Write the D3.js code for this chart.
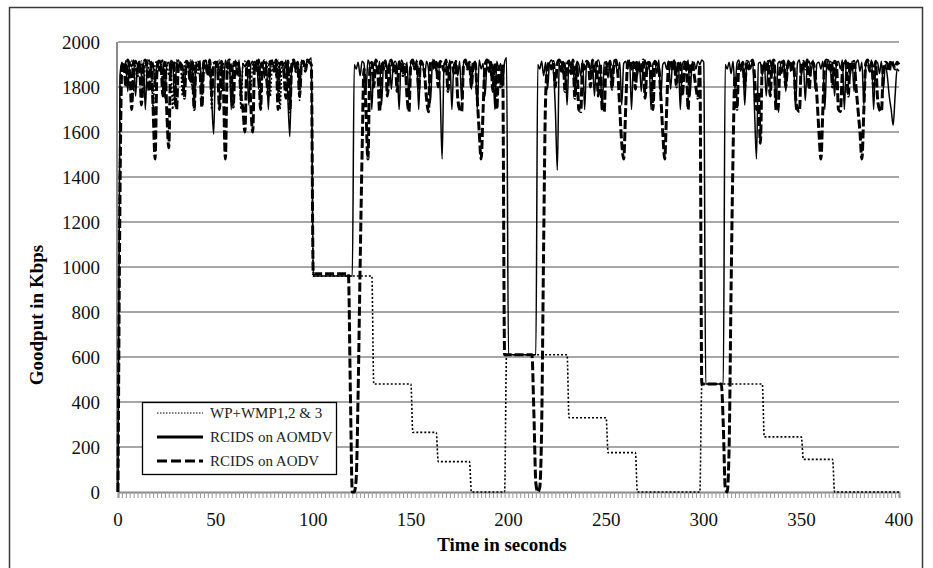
<!DOCTYPE html>
<html>
<head>
<meta charset="utf-8">
<script src="https://cdn.jsdelivr.net/npm/d3@7/dist/d3.min.js"></script>
<style>
    body { margin: 0; background: #fff; }
    svg { display: block; }
</style>
</head>
<body>
<div id="chart"></div>
<script>
// time axis, one sample per second
var seconds = d3.range(0, 401);

var xLabels = [0, 50, 100, 150, 200, 250, 300, 350, 400];
var yLabels = [0, 200, 400, 600, 800, 1000, 1200, 1400, 1600, 1800, 2000];

var seriesNames = ["WP+WMP1,2 & 3", "RCIDS on AOMDV", "RCIDS on AODV"];

// goodput (Kbps), t = 0..400 s
var wpWmp = [
    0, 1600, 1900, 1880, 1915, 1850, 1905, 1920, 1780, 1910, 1900, 1870, 1915, 1760, 1905, 1920, 1860, 1910, 1700, 1900,
    1915, 1880, 1920, 1790, 1905, 1910, 1850, 1915, 1700, 1900, 1920, 1870, 1910, 1760, 1905, 1915, 1880, 1920, 1790, 1900,
    1910, 1860, 1915, 1720, 1905, 1920, 1880, 1910, 1700, 1900, 1915, 1870, 1920, 1780, 1905, 1910, 1850, 1915, 1760, 1900,
    1920, 1880, 1910, 1700, 1905, 1915, 1860, 1920, 1790, 1900, 1910, 1870, 1915, 1720, 1905, 1920, 1880, 1910, 1760, 1900,
    1915, 1850, 1920, 1700, 1905, 1910, 1880, 1915, 1780, 1900, 1920, 1860, 1910, 1740, 1905, 1915, 1880, 1920, 1910, 1900,
    960, 960, 960, 960, 960, 960, 960, 960, 960, 960, 960, 960, 960, 960, 960, 960, 960, 960, 960, 960,
    960, 960, 960, 960, 960, 960, 960, 960, 960, 960, 960, 480, 480, 480, 480, 480, 480, 480, 480, 480,
    480, 480, 480, 480, 480, 480, 480, 480, 480, 480, 480, 265, 265, 265, 265, 265, 265, 265, 265, 265,
    265, 265, 265, 265, 135, 135, 135, 135, 135, 135, 135, 135, 135, 135, 135, 135, 135, 135, 135, 135,
    135, 0, 0, 0, 0, 0, 0, 0, 0, 0, 0, 0, 0, 0, 0, 0, 0, 0, 0, 610,
    610, 610, 610, 610, 610, 610, 610, 610, 610, 610, 610, 610, 610, 610, 610, 610, 610, 610, 610, 610,
    610, 610, 610, 610, 610, 610, 610, 610, 610, 610, 610, 330, 330, 330, 330, 330, 330, 330, 330, 330,
    330, 330, 330, 330, 330, 330, 330, 330, 330, 330, 330, 175, 175, 175, 175, 175, 175, 175, 175, 175,
    175, 175, 175, 175, 175, 175, 0, 0, 0, 0, 0, 0, 0, 0, 0, 0, 0, 0, 0, 0,
    0, 0, 0, 0, 0, 0, 0, 0, 0, 0, 0, 0, 0, 0, 0, 0, 0, 0, 0, 480,
    480, 480, 480, 480, 480, 480, 480, 480, 480, 480, 480, 480, 480, 480, 480, 480, 480, 480, 480, 480,
    480, 480, 480, 480, 480, 480, 480, 480, 480, 480, 480, 245, 245, 245, 245, 245, 245, 245, 245, 245,
    245, 245, 245, 245, 245, 245, 245, 245, 245, 245, 245, 145, 145, 145, 145, 145, 145, 145, 145, 145,
    145, 145, 145, 145, 145, 145, 145, 0, 0, 0, 0, 0, 0, 0, 0, 0, 0, 0, 0, 0,
    0, 0, 0, 0, 0, 0, 0, 0, 0, 0, 0, 0, 0, 0, 0, 0, 0, 0, 0, 0,
    0
];

var rcidsAomdv = [
    0, 1850, 1910, 1870, 1915, 1780, 1905, 1890, 1920, 1760, 1900, 1915, 1850, 1910, 1700, 1905, 1920, 1880, 1910, 1800,
    1915, 1870, 1905, 1920, 1750, 1900, 1910, 1860, 1915, 1720, 1905, 1920, 1880, 1900, 1790, 1915, 1905, 1850, 1920, 1700,
    1910, 1890, 1915, 1780, 1905, 1920, 1870, 1910, 1740, 1590, 1900, 1915, 1860, 1905, 1800, 1920, 1880, 1910, 1700, 1905,
    1915, 1850, 1920, 1760, 1905, 1890, 1910, 1720, 1900, 1915, 1870, 1920, 1790, 1905, 1910, 1840, 1915, 1700, 1900, 1920,
    1880, 1910, 1770, 1905, 1915, 1860, 1920, 1750, 1580, 1900, 1915, 1870, 1910, 1800, 1920, 1900, 1890, 1915, 1920, 1930,
    960, 960, 960, 960, 960, 960, 960, 960, 960, 960, 960, 960, 960, 960, 960, 960, 960, 960, 960, 960,
    960, 1900, 1880, 1910, 1850, 1915, 1905, 1780, 1920, 1890, 1700, 1910, 1900, 1860, 1915, 1720, 1905, 1920, 1870, 1910,
    1790, 1900, 1915, 1880, 1700, 1920, 1905, 1850, 1910, 1760, 1915, 1900, 1880, 1920, 1700, 1905, 1910, 1840, 1915, 1880,
    1730, 1900, 1920, 1870, 1910, 1780, 1480, 1905, 1915, 1860, 1920, 1700, 1900, 1910, 1850, 1915, 1740, 1905, 1920, 1880,
    1910, 1790, 1900, 1915, 1700, 1920, 1880, 1905, 1760, 1910, 1920, 1850, 1900, 1700, 1915, 1880, 1905, 1800, 1910, 1930,
    610, 610, 610, 610, 610, 610, 610, 610, 610, 610, 610, 610, 610, 610, 610, 1900, 1880, 1915, 1850, 1910,
    1790, 1905, 1920, 1870, 1700, 1430, 1900, 1915, 1860, 1910, 1720, 1920, 1880, 1905, 1780, 1915, 1900, 1850, 1920, 1700,
    1905, 1910, 1870, 1915, 1760, 1900, 1920, 1880, 1700, 1910, 1905, 1840, 1915, 1790, 1920, 1900, 1860, 1910, 1720, 1905,
    1915, 1880, 1920, 1700, 1905, 1910, 1850, 1915, 1780, 1900, 1920, 1870, 1910, 1700, 1905, 1915, 1860, 1920, 1750, 1900,
    1910, 1880, 1915, 1790, 1905, 1920, 1850, 1910, 1700, 1900, 1915, 1870, 1920, 1760, 1905, 1910, 1880, 1915, 1900, 1920,
    1910, 480, 480, 480, 480, 480, 480, 480, 480, 480, 480, 1900, 1880, 1910, 1860, 1915, 1790, 1905, 1920, 1870,
    1910, 1720, 1900, 1915, 1880, 1920, 1700, 1480, 1905, 1910, 1850, 1915, 1760, 1900, 1920, 1870, 1910, 1700, 1905, 1915,
    1860, 1920, 1780, 1900, 1910, 1880, 1915, 1700, 1905, 1920, 1850, 1910, 1740, 1900, 1915, 1870, 1920, 1790, 1905, 1910,
    1880, 1915, 1700, 1900, 1920, 1860, 1910, 1760, 1905, 1915, 1880, 1920, 1700, 1900, 1910, 1850, 1915, 1780, 1905, 1920,
    1870, 1910, 1720, 1900, 1915, 1880, 1920, 1700, 1905, 1910, 1860, 1915, 1790, 1900, 1850, 1760, 1700, 1630, 1760, 1880,
    1870
];

var rcidsAodv = [
    0, 1300, 1890, 1910, 1800, 1920, 1880, 1700, 1905, 1915, 1850, 1910, 1720, 1900, 1920, 1870, 1780, 1910, 1700, 1480,
    1880, 1915, 1900, 1760, 1910, 1690, 1530, 1900, 1920, 1860, 1700, 1910, 1905, 1880, 1750, 1915, 1900, 1820, 1920, 1700,
    1905, 1910, 1870, 1710, 1915, 1900, 1850, 1920, 1760, 1905, 1910, 1880, 1700, 1915, 1790, 1480, 1900, 1920, 1860, 1710,
    1910, 1905, 1880, 1760, 1700, 1600, 1900, 1915, 1720, 1600, 1910, 1880, 1920, 1700, 1905, 1910, 1850, 1760, 1915, 1900,
    1870, 1920, 1700, 1905, 1910, 1860, 1750, 1915, 1690, 1900, 1920, 1880, 1910, 1760, 1905, 1915, 1870, 1920, 1910, 1900,
    970, 970, 970, 970, 970, 970, 970, 970, 970, 970, 970, 970, 970, 970, 970, 970, 970, 970, 970, 450,
    0, 0, 60, 450, 1000, 1500, 1880, 1700, 1480, 1880, 1910, 1800, 1920, 1880, 1690, 1910, 1880, 1915, 1760, 1900,
    1920, 1870, 1905, 1780, 1910, 1915, 1850, 1900, 1760, 1690, 1905, 1920, 1880, 1910, 1790, 1915, 1900, 1860, 1750, 1690,
    1905, 1920, 1880, 1910, 1800, 1915, 1900, 1870, 1920, 1780, 1905, 1910, 1860, 1915, 1750, 1700, 1690, 1900, 1920, 1880,
    1910, 1800, 1915, 1905, 1750, 1600, 1480, 1700, 1900, 1920, 1870, 1910, 1780, 1905, 1700, 1890, 1800, 1900, 610, 610,
    610, 610, 610, 610, 610, 610, 610, 610, 610, 610, 610, 610, 610, 350, 40, 0, 20, 300, 1100, 1750,
    1890, 1910, 1880, 1915, 1800, 1905, 1920, 1870, 1910, 1780, 1900, 1915, 1860, 1920, 1750, 1905, 1700, 1690, 1910, 1880,
    1915, 1900, 1800, 1920, 1870, 1910, 1760, 1905, 1700, 1690, 1910, 1880, 1915, 1790, 1900, 1920, 1860, 1700, 1550, 1480,
    1700, 1905, 1920, 1880, 1910, 1790, 1915, 1900, 1860, 1920, 1750, 1905, 1910, 1870, 1700, 1915, 1900, 1880, 1760, 1600,
    1480, 1700, 1905, 1920, 1870, 1910, 1800, 1915, 1900, 1760, 1880, 1920, 1700, 1905, 1910, 1860, 1800, 1750, 1900, 480,
    480, 480, 480, 480, 480, 480, 480, 480, 480, 480, 300, 20, 0, 200, 900, 1500, 1850, 1700, 1900, 1880,
    1910, 1800, 1915, 1880, 1905, 1920, 1850, 1700, 1780, 1550, 1900, 1910, 1870, 1915, 1760, 1905, 1920, 1700, 1690, 1880,
    1910, 1915, 1800, 1900, 1920, 1870, 1910, 1760, 1700, 1690, 1905, 1915, 1880, 1920, 1790, 1900, 1910, 1860, 1750, 1600,
    1480, 1700, 1905, 1920, 1880, 1910, 1800, 1915, 1900, 1700, 1690, 1870, 1920, 1905, 1760, 1910, 1880, 1915, 1800, 1700,
    1600, 1480, 1700, 1905, 1920, 1870, 1910, 1800, 1915, 1750, 1700, 1690, 1880, 1910, 1905, 1870, 1920, 1900, 1880, 1910,
    1900
];

var width = 933, height = 568;
var plotLeft = 118, plotRight = 899, plotTop = 42, plotBottom = 492;

var svg = d3.select("#chart").append("svg")
    .attr("width", width)
    .attr("height", height);

var x = d3.scaleLinear().domain([0, 400]).range([plotLeft, plotRight]);
var y = d3.scaleLinear().domain([0, 2000]).range([plotBottom, plotTop]);

var serif = "'Liberation Serif', 'Times New Roman', serif";

// outer frame
svg.append("rect")
    .attr("x", 9.5).attr("y", 7.5)
    .attr("width", 913).attr("height", 580)
    .attr("fill", "none")
    .attr("stroke", "#3a3a3a")
    .attr("stroke-width", 1.5);

// horizontal gridlines
svg.append("g").selectAll("line")
    .data(yLabels.slice(1))
    .enter().append("line")
    .attr("x1", plotLeft).attr("x2", plotRight)
    .attr("y1", function(d) { return y(d); })
    .attr("y2", function(d) { return y(d); })
    .attr("stroke", "#8a8a8a")
    .attr("stroke-width", 1.5);

// y axis: line + labels
svg.append("line")
    .attr("x1", plotLeft - 1).attr("x2", plotLeft - 1)
    .attr("y1", plotTop).attr("y2", plotBottom)
    .attr("stroke", "#8a8a8a").attr("stroke-width", 2);

svg.append("g").selectAll("text")
    .data(yLabels)
    .enter().append("text")
    .attr("x", 100)
    .attr("y", function(d) { return y(d); })
    .attr("dy", "0.35em")
    .attr("text-anchor", "end")
    .style("font-family", serif)
    .style("font-size", "19px")
    .style("fill", "#111")
    .text(function(d) { return d; });

// x axis with a comb of small category ticks
var xAxis = d3.axisBottom(x)
    .tickValues(d3.range(0, 401, 2))
    .tickSize(6)
    .tickFormat("");
var xAxisG = svg.append("g")
    .attr("transform", "translate(0," + plotBottom + ")")
    .call(xAxis);
xAxisG.select(".domain").attr("stroke", "#8a8a8a").attr("stroke-width", 2);
xAxisG.selectAll(".tick line").attr("stroke", "#999").attr("stroke-width", 1);

svg.append("g").selectAll("text")
    .data(xLabels)
    .enter().append("text")
    .attr("x", function(d) { return x(d); })
    .attr("y", 526)
    .attr("text-anchor", "middle")
    .style("font-family", serif)
    .style("font-size", "19px")
    .style("fill", "#111")
    .text(function(d) { return d; });

// axis titles
svg.append("text")
    .attr("transform", "translate(43,315) rotate(-90)")
    .attr("text-anchor", "middle")
    .style("font-family", serif)
    .style("font-size", "19px")
    .style("font-weight", "bold")
    .text("Goodput in Kbps");

svg.append("text")
    .attr("x", 502).attr("y", 551)
    .attr("text-anchor", "middle")
    .style("font-family", serif)
    .style("font-size", "19px")
    .style("font-weight", "bold")
    .text("Time in seconds");

// series
var styles = [
    { data: wpWmp, width: 1.6, dash: "2,2" },
    { data: rcidsAomdv, width: 1.5, dash: null },
    { data: rcidsAodv, width: 3, dash: "9,3" }
];

var line = d3.line()
    .x(function(d, i) { return x(seconds[i]); })
    .y(function(d) { return y(d); })
    .curve(d3.curveMonotoneX);

svg.append("g").selectAll("path")
    .data(styles)
    .enter().append("path")
    .attr("d", function(s) { return line(s.data); })
    .attr("fill", "none")
    .attr("stroke", "#000")
    .attr("stroke-width", function(s) { return s.width; })
    .attr("stroke-dasharray", function(s) { return s.dash; });

// legend
var legend = svg.append("g");
legend.append("rect")
    .attr("x", 142.5).attr("y", 402.5)
    .attr("width", 194).attr("height", 72)
    .attr("fill", "#fff")
    .attr("stroke", "#000")
    .attr("stroke-width", 1.3);

var legendItems = legend.selectAll("g.item")
    .data(seriesNames)
    .enter().append("g")
    .attr("class", "item")
    .attr("transform", function(d, i) { return "translate(0," + (413 + i * 24) + ")"; });

legendItems.append("line")
    .attr("x1", 157).attr("x2", 203)
    .attr("stroke", "#000")
    .attr("stroke-width", function(d, i) { return i === 0 ? 1.2 : 3; })
    .attr("stroke-dasharray", function(d, i) { return i === 0 ? "1.5,1.5" : (i === 2 ? "10,4" : null); });

legendItems.append("text")
    .attr("x", 210)
    .attr("dy", "0.35em")
    .style("font-family", serif)
    .style("font-size", "15px")
    .style("fill", "#222")
    .text(function(d) { return d; });
</script>
</body>
</html>
